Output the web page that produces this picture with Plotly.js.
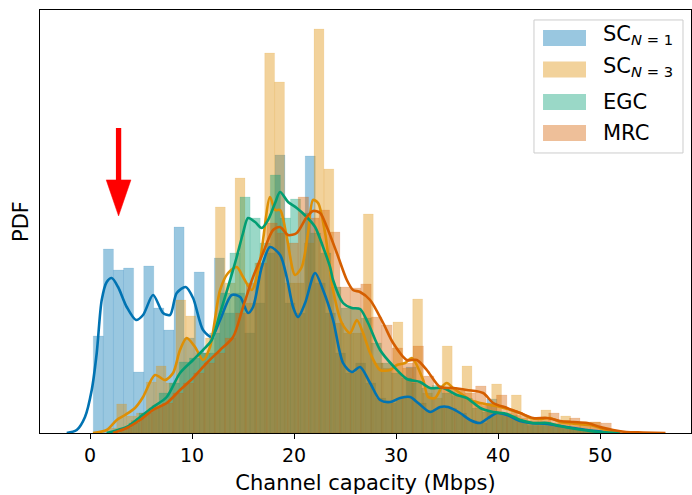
<!DOCTYPE html>
<html>
<head>
<meta charset="utf-8">
<script src="https://cdn.plot.ly/plotly-3.0.1.min.js"></script>
<style>html,body{margin:0;padding:0;background:#fff;}#chart{width:692px;height:495px;}</style>
</head>
<body>
<div id="chart"></div>
<script>
// ---------- data ----------
const seriesNames = ["SC<sub><i>N</i> = 1</sub>", "SC<sub><i>N</i> = 3</sub>", "EGC", "MRC"];
const seriesColors = ["#0173B2", "#DE8F05", "#029E73", "#D55E00"];
const xTicks = [0, 10, 20, 30, 40, 50];

// histogram bins (first bin left edge, bin width, density heights in %/Mbps)
const sc1BinStart = 0.32, sc1BinWidth = 0.989;
const sc1Hist = [1.94, 3.68, 3.26, 3.30, 1.22, 3.34, 2.50, 2.06, 4.12, 1.90, 3.22, 1.60, 3.50, 2.40, 2.80, 2.00, 2.60, 3.60, 5.56, 2.60, 2.40, 5.54, 3.00, 2.40, 1.60, 1.20, 1.40, 1.00, 0.70, 0.60, 0.70, 1.32, 0.60, 0.45, 0.50, 0.50, 0.40, 0.25, 0.20, 0.68, 0.40, 0.35, 0.25, 0.15, 0.15, 0.14, 0.12, 0.08, 0.06, 0.03];

const sc3BinStart = 1.65, sc3BinWidth = 0.967;
const sc3Hist = [0.10, 0.58, 0.34, 0.40, 1.02, 1.34, 1.00, 2.66, 2.34, 1.60, 1.90, 4.52, 3.00, 5.10, 2.60, 3.40, 7.60, 7.02, 3.00, 3.00, 3.80, 8.08, 5.28, 2.20, 2.00, 2.00, 4.38, 1.40, 1.30, 2.22, 1.30, 2.68, 0.80, 0.70, 1.74, 0.90, 1.34, 0.60, 0.55, 0.98, 0.40, 0.76, 0.30, 0.30, 0.46, 0.20, 0.34, 0.15, 0.22, 0.22, 0.10, 0.04];

const egcBinStart = 2.82, egcBinWidth = 0.990;
const egcHist = [0.10, 0.20, 0.40, 0.50, 0.80, 1.00, 1.42, 1.50, 1.60, 2.00, 2.80, 3.60, 4.72, 4.30, 3.80, 5.16, 4.30, 4.68, 4.40, 4.00, 3.60, 2.92, 2.50, 2.50, 2.30, 1.80, 1.40, 1.20, 1.10, 1.00, 0.90, 0.95, 0.80, 0.75, 0.70, 0.50, 0.42, 0.38, 0.35, 0.28, 0.22, 0.22, 0.20, 0.16, 0.10, 0.06, 0.04, 0.02, 0.01];

const mrcBinStart = 3.01, mrcBinWidth = 1.023;
const mrcHist = [0.10, 0.25, 0.40, 0.55, 0.60, 0.80, 1.00, 1.20, 1.40, 1.60, 1.90, 2.40, 3.00, 3.40, 4.20, 4.00, 3.80, 4.72, 4.30, 4.46, 4.02, 2.92, 2.90, 2.98, 2.32, 2.16, 1.70, 1.40, 1.74, 1.14, 0.90, 0.90, 0.85, 0.80, 0.94, 0.60, 0.76, 0.45, 0.35, 0.25, 0.25, 0.40, 0.25, 0.30, 0.18, 0.22, 0.20, 0.05, 0.03, 0.02, 0.01, 0.01];

// kernel density curves
const sc1KdeX = [-2.28, -1.30, -0.49, 0.17, 0.66, 1.15, 1.64, 2.13, 2.75, 3.60, 4.51, 5.20, 6.18, 7.16, 7.84, 8.50, 9.38, 10.10, 11.08, 11.93, 12.75, 13.89, 14.71, 15.49, 15.98, 16.83, 17.65, 18.63, 19.28, 19.90, 20.39, 21.08, 22.06, 22.84, 23.82, 24.80, 25.66, 26.47, 27.45, 28.43, 29.41, 30.39, 31.37, 32.16, 33.33, 34.31, 35.10, 36.27, 37.25, 38.24, 39.02, 39.90, 40.88, 42.16, 43.14, 44.80, 46.08, 47.35, 48.73, 50.0, 51.27];
const sc1KdeY = [0, 0.06, 0.32, 0.86, 1.60, 2.66, 3.02, 3.10, 2.92, 2.52, 2.26, 2.36, 2.76, 2.40, 2.36, 2.80, 2.92, 2.70, 2.06, 1.92, 2.26, 2.76, 2.72, 2.40, 2.52, 3.32, 3.72, 3.56, 3.12, 2.52, 2.32, 2.60, 3.20, 2.86, 2.26, 1.40, 1.22, 1.32, 1.00, 0.66, 0.62, 0.70, 0.72, 0.60, 0.42, 0.52, 0.52, 0.40, 0.26, 0.20, 0.30, 0.40, 0.36, 0.24, 0.20, 0.18, 0.14, 0.10, 0.06, 0.03, 0];

const sc3KdeX = [0.29, 1.64, 2.62, 3.43, 4.41, 5.20, 6.37, 7.35, 8.14, 8.82, 9.48, 10.29, 11.08, 11.76, 12.75, 13.53, 14.38, 15.0, 15.85, 16.67, 17.65, 18.14, 18.63, 19.28, 20.10, 20.75, 21.37, 21.86, 22.35, 23.04, 23.82, 24.68, 25.49, 26.15, 26.76, 27.45, 28.43, 29.41, 30.07, 30.88, 31.54, 32.65, 33.14, 33.82, 34.48, 34.97, 35.59, 36.27, 37.25, 38.24, 39.22, 40.2, 41.18, 42.16, 43.14, 44.12, 45.10, 46.08, 47.71, 49.02, 50.0, 50.98, 51.96];
const sc3KdeY = [0, 0.06, 0.26, 0.36, 0.50, 0.72, 1.16, 1.06, 1.20, 1.66, 1.90, 1.72, 1.46, 1.72, 2.86, 3.20, 3.32, 3.12, 2.86, 3.46, 4.72, 4.46, 4.46, 3.92, 3.16, 3.32, 4.00, 4.66, 4.60, 4.00, 2.86, 2.20, 2.00, 2.26, 2.00, 1.60, 1.26, 1.26, 1.36, 1.40, 1.50, 1.06, 0.72, 0.70, 0.92, 1.00, 0.90, 0.80, 0.66, 0.60, 0.56, 0.52, 0.46, 0.40, 0.30, 0.28, 0.30, 0.22, 0.18, 0.16, 0.10, 0.04, 0];

const egcKdeX = [1.64, 3.60, 4.90, 6.18, 7.52, 8.82, 10.10, 11.08, 11.93, 12.75, 13.53, 14.38, 15.0, 15.49, 16.18, 16.83, 17.45, 18.14, 18.63, 19.41, 20.26, 21.24, 22.06, 22.84, 23.53, 23.82, 24.80, 25.66, 26.47, 27.25, 28.43, 29.71, 31.05, 32.35, 33.33, 34.61, 35.95, 36.93, 38.24, 39.51, 40.88, 42.16, 43.43, 44.80, 46.08, 47.35, 48.73, 50.0, 51.96];
const egcKdeY = [0, 0.12, 0.32, 0.52, 0.72, 1.20, 1.46, 1.66, 1.86, 2.40, 2.92, 3.52, 4.00, 4.30, 4.22, 4.10, 4.26, 4.60, 4.82, 4.62, 4.50, 4.32, 4.12, 3.72, 3.32, 3.06, 2.60, 2.50, 2.48, 2.20, 1.66, 1.34, 1.08, 1.02, 0.90, 0.90, 0.76, 0.70, 0.50, 0.42, 0.38, 0.26, 0.20, 0.20, 0.14, 0.09, 0.05, 0.02, 0];

const mrcKdeX = [2.25, 3.60, 4.90, 6.18, 7.52, 8.82, 10.10, 11.44, 12.75, 14.02, 15.0, 15.98, 16.96, 17.94, 18.63, 19.41, 20.26, 21.24, 21.86, 22.55, 23.21, 24.19, 25.17, 25.78, 26.47, 27.45, 28.73, 29.71, 31.05, 32.03, 33.01, 34.31, 35.59, 36.93, 38.53, 39.51, 40.88, 42.16, 43.43, 44.80, 46.08, 47.35, 48.73, 50.0, 51.27, 52.55, 54.2, 56.4];
const mrcKdeY = [0, 0.10, 0.26, 0.46, 0.60, 0.86, 1.10, 1.40, 1.66, 1.92, 2.52, 3.12, 3.60, 4.06, 4.12, 3.96, 4.00, 4.32, 4.44, 4.40, 4.12, 3.60, 3.06, 2.86, 2.82, 2.66, 2.20, 1.80, 1.46, 1.46, 1.26, 0.92, 0.90, 0.86, 0.80, 0.60, 0.50, 0.40, 0.30, 0.30, 0.24, 0.22, 0.20, 0.12, 0.06, 0.02, 0.01, 0];

// red marker arrow (x position, tail and tip heights in data units)
const arrowX = 2.8, arrowTail = 6.1, arrowTip = 4.34;

// ---------- build ----------
function rgba(hex, a) {
  const n = parseInt(hex.slice(1), 16);
  return `rgba(${(n >> 16) & 255},${(n >> 8) & 255},${n & 255},${a})`;
}
function centers(start, w, n) {
  const out = [];
  for (let i = 0; i < n; i++) out.push(start + (i + 0.5) * w);
  return out;
}
const hists = [
  [sc1BinStart, sc1BinWidth, sc1Hist],
  [sc3BinStart, sc3BinWidth, sc3Hist],
  [egcBinStart, egcBinWidth, egcHist],
  [mrcBinStart, mrcBinWidth, mrcHist]
];
const kdes = [[sc1KdeX, sc1KdeY], [sc3KdeX, sc3KdeY], [egcKdeX, egcKdeY], [mrcKdeX, mrcKdeY]];

const traces = [];
hists.forEach((h, i) => {
  traces.push({
    type: "bar",
    x: centers(h[0], h[1], h[2].length),
    y: h[2],
    width: h[1],
    name: seriesNames[i],
    marker: { color: rgba(seriesColors[i], 0.4), line: { color: rgba(seriesColors[i], 0.2), width: 0.5 } },
    showlegend: false,
    hoverinfo: "skip"
  });
});
kdes.forEach((k, i) => {
  traces.push({
    type: "scatter",
    mode: "lines",
    x: k[0],
    y: k[1],
    line: { color: seriesColors[i], width: 2.6, shape: "spline", smoothing: 0.8 },
    showlegend: false,
    hoverinfo: "skip"
  });
});

// legend drawn as patches + labels (matplotlib style)
const legX0 = 0.7588, legX1 = 0.9877, legY0 = 0.662, legY1 = 0.9764;
const patchX0 = 0.7727, patchX1 = 0.8387, textX = 0.8664;
const rowY = [0.9338, 0.8593, 0.7825, 0.7092];
const patchH = 0.0378;
const shapes = [
  { type: "rect", xref: "paper", yref: "paper", x0: legX0, x1: legX1, y0: legY0, y1: legY1,
    fillcolor: "rgba(255,255,255,0.8)", line: { color: "#cccccc", width: 1 }, layer: "above" }
];
const annotations = [];
seriesNames.forEach((nm, i) => {
  shapes.push({ type: "rect", xref: "paper", yref: "paper", x0: patchX0, x1: patchX1,
    y0: rowY[i] - patchH / 2, y1: rowY[i] + patchH / 2,
    fillcolor: rgba(seriesColors[i], 0.4), line: { width: 0 }, layer: "above" });
  annotations.push({ xref: "paper", yref: "paper", x: textX - 0.004, y: rowY[i] + (i < 2 ? 0.006 : 0),
    xanchor: "left", yanchor: "middle", text: nm, showarrow: false,
    font: { size: 21, color: "#000", family: "DejaVu Sans" } });
});

// arrow: shaft + triangular head in data coordinates
const headBase = arrowTip + (arrowTail - arrowTip) * 0.41;
const headHalf = 1.21;
shapes.push({ type: "line", xref: "x", yref: "y", x0: arrowX, x1: arrowX, y0: arrowTail, y1: headBase - 0.05,
  line: { color: "#ff0000", width: 5.3 } });
shapes.push({ type: "path", xref: "x", yref: "y",
  path: `M ${arrowX - headHalf},${headBase} L ${arrowX + headHalf},${headBase} L ${arrowX},${arrowTip} Z`,
  fillcolor: "#ff0000", line: { color: "#ff0000", width: 0.5 } });

const layout = {
  width: 692, height: 495,
  margin: { l: 40, r: 1, t: 10, b: 62, pad: 0 },
  paper_bgcolor: "#ffffff", plot_bgcolor: "#ffffff",
  barmode: "overlay", bargap: 0,
  showlegend: false,
  font: { family: "DejaVu Sans", color: "#000" },
  xaxis: {
    range: [-4.9, 58.9], tickvals: xTicks, ticktext: xTicks.map(String),
    ticks: "outside", ticklen: 5, tickwidth: 1, tickcolor: "#000",
    showline: true, mirror: true, linecolor: "#000", linewidth: 1,
    showgrid: false, zeroline: false,
    tickfont: { size: 19, family: "DejaVu Sans", color: "#000" },
    title: { text: "Channel capacity (Mbps)", font: { size: 21, family: "DejaVu Sans", color: "#000" }, standoff: 11 }
  },
  yaxis: {
    range: [0, 8.46], showticklabels: false, ticks: "",
    showline: true, mirror: true, linecolor: "#000", linewidth: 1,
    showgrid: false, zeroline: false,
    title: { text: "PDF", font: { size: 21, family: "DejaVu Sans", color: "#000" }, standoff: 4 }
  },
  shapes: shapes,
  annotations: annotations
};

Plotly.newPlot("chart", traces, layout, { staticPlot: true, displayModeBar: false });
</script>
</body>
</html>
